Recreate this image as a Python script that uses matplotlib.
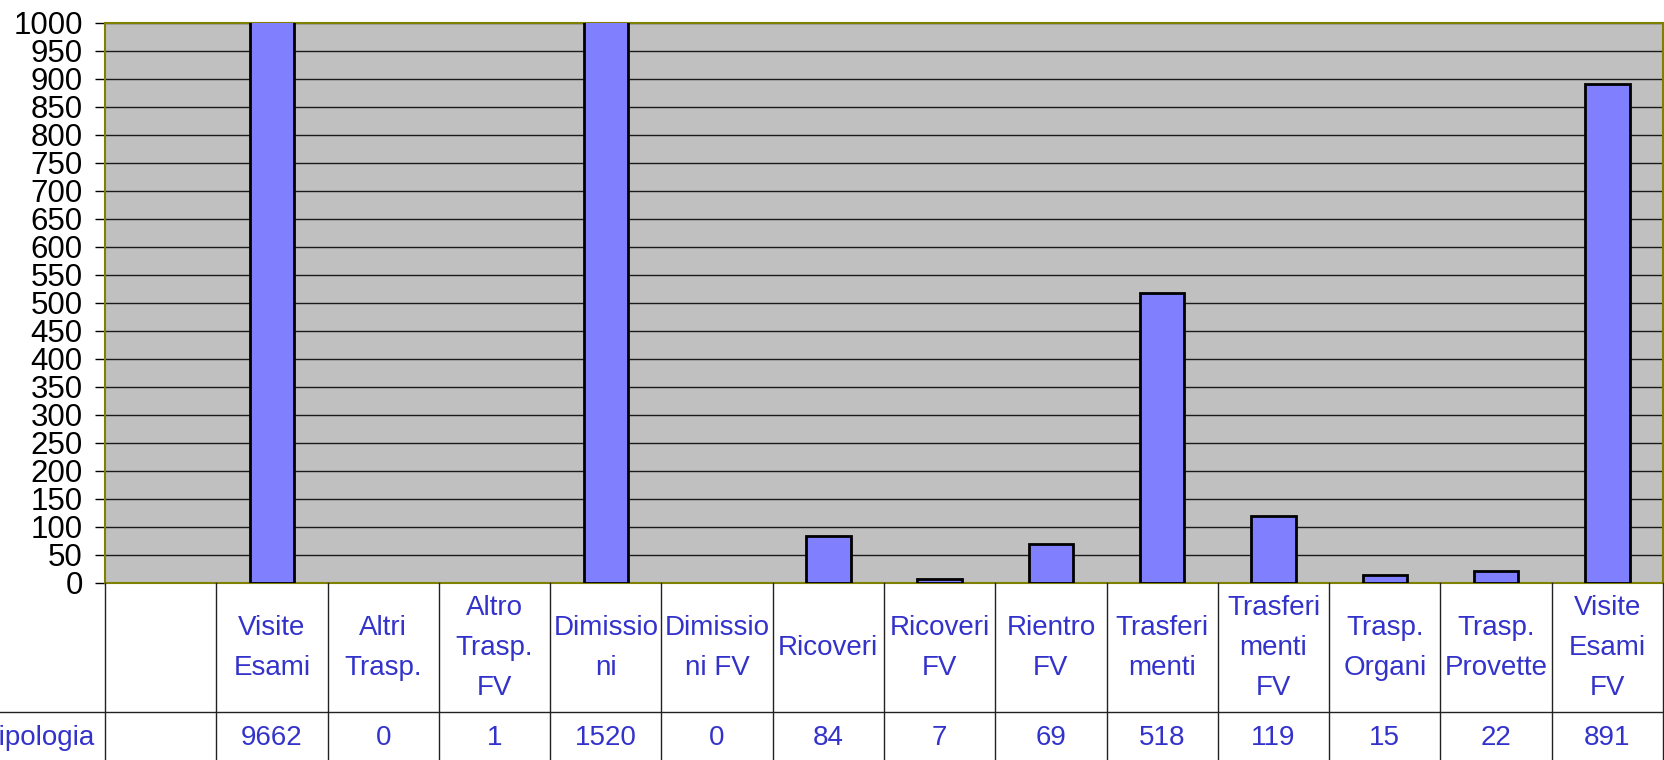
import matplotlib
matplotlib.use("Agg")
import matplotlib.pyplot as plt
import numpy as np

plt.rcParams['font.family'] = ['Liberation Sans', 'DejaVu Sans']

categories = ["", "Visite\nEsami", "Altri\nTrasp.", "Altro\nTrasp.\nFV", "Dimissio\nni",
              "Dimissio\nni FV", "Ricoveri", "Ricoveri\nFV", "Rientro\nFV", "Trasferi\nmenti",
              "Trasferi\nmenti\nFV", "Trasp.\nOrgani", "Trasp.\nProvette", "Visite\nEsami\nFV"]
values = [None, 9662, 0, 1, 1520, 0, 84, 7, 69, 518, 119, 15, 22, 891]
row_label = "tipologia"
yticks = list(range(0, 1001, 50))

W, H = 1665, 760
fig = plt.figure(figsize=(W / 100, H / 100), dpi=100)
left_px, right_px, top_px, bottom_px = 105, 1663, 23, 583
ax = fig.add_axes([left_px / W, 1 - bottom_px / H, (right_px - left_px) / W, (bottom_px - top_px) / H])
ax.set_facecolor('#C0C0C0')

n = len(categories)
xs = np.arange(n)
bar_x = [x for x, v in zip(xs, values) if v is not None and v >= 2]
bar_v = [v for v in values if v is not None and v >= 2]
ax.bar(bar_x, bar_v, width=0.4, color='#8080FF', edgecolor='black', linewidth=2.0, zorder=3)

ax.set_xlim(-0.5, n - 0.5)
ax.set_ylim(0, 1000)
ax.set_yticks(yticks)
ax.set_yticklabels([str(t) for t in yticks], fontsize=22.5)
ax.set_xticks([])
ax.tick_params(axis='y', direction='out', length=7, width=1, color='black', pad=9)
ax.yaxis.grid(True, color='#1a1a1a', linewidth=1)
ax.set_axisbelow(True)
for s in ax.spines.values():
    s.set_color('#808000')
    s.set_linewidth(1.5)

# data table
tab_h = H - bottom_px
tax = fig.add_axes([left_px / W, 0, (right_px - left_px) / W, tab_h / H])
tax.set_xlim(-0.5, n - 0.5)
tax.set_ylim(0, tab_h)
tax.axis('off')
row_y = H - 712
colw = (right_px - left_px) / n
for k in range(n + 1):
    tax.plot([k - 0.5, k - 0.5], [0, tab_h], color='#222222', lw=1, clip_on=False)
tax.plot([-0.5 - left_px / colw, n - 0.5], [row_y, row_y], color='#222222', lw=1, clip_on=False)

txt_color = '#3333CC'
hdr_center = tab_h - (648 - bottom_px)
for x, c, v in zip(xs, categories, values):
    if c:
        tax.text(x, hdr_center, c, ha='center', va='center', fontsize=20, color=txt_color,
                 linespacing=1.7, multialignment='center')
    if v is not None:
        tax.text(x, H - 738, str(v), ha='center', va='center', fontsize=20, color=txt_color)
tax.text(-0.5 - 10 / colw, H - 738, row_label, ha='right', va='center', fontsize=20,
         color=txt_color, clip_on=False)

fig.savefig('out.png', dpi=100)
